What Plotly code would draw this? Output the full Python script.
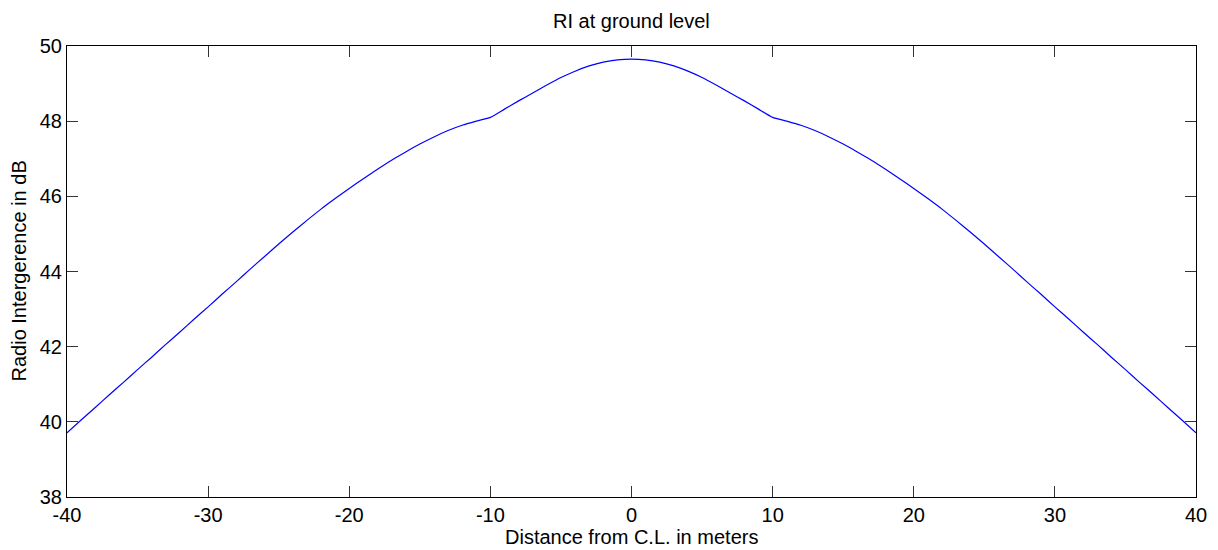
import plotly.graph_objects as go

distance_m = [-40, -39, -38, -37, -36, -35, -34, -33, -32, -31, -30, -29, -28, -27, -26, -25, -24, -23, -22, -21,
              -20, -19, -18, -17, -16, -15, -14, -13, -12, -11, -10, -9, -8, -7, -6, -5, -4, -3, -2, -1,
              0, 1, 2, 3, 4, 5, 6, 7, 8, 9, 10, 11, 12, 13, 14, 15, 16, 17, 18, 19,
              20, 21, 22, 23, 24, 25, 26, 27, 28, 29, 30, 31, 32, 33, 34, 35, 36, 37, 38, 39, 40]
ri_db = [39.71, 40.05, 40.38, 40.72, 41.05, 41.39, 41.72, 42.06, 42.39, 42.73, 43.06, 43.40, 43.73, 44.07, 44.40,
         44.73, 45.05, 45.36, 45.66, 45.94, 46.21, 46.47, 46.72, 46.96, 47.18, 47.39, 47.58, 47.75, 47.89, 48.00,
         48.10, 48.32, 48.54, 48.75, 48.96, 49.16, 49.33, 49.47, 49.57, 49.63,
         49.65,
         49.63, 49.57, 49.47, 49.33, 49.16, 48.96, 48.75, 48.54, 48.32, 48.10,
         48.00, 47.89, 47.75, 47.58, 47.39, 47.18, 46.96, 46.72, 46.47, 46.21, 45.94, 45.66, 45.36, 45.05,
         44.73, 44.40, 44.07, 43.73, 43.40, 43.06, 42.73, 42.39, 42.06, 41.72, 41.39, 41.05, 40.72, 40.38, 40.05, 39.71]

x_ticks = [-40, -30, -20, -10, 0, 10, 20, 30, 40]
y_ticks = [38, 40, 42, 44, 46, 48, 50]

title_text = "RI at ground level"
x_label = "Distance from C.L. in meters"
y_label = "Radio Intergerence in dB"

FONT = "Liberation Sans, Arial, sans-serif"
# page has an 8px body margin, so the figure is sized to fill the rest of the window
OFF = 8
W, H = 1218 - OFF, 550 - OFF
L, R, T, B = 67 - OFF, 22, 46 - OFF, 53
PW, PH = W - L - R, H - T - B

fig = go.Figure()
fig.add_trace(go.Scatter(x=distance_m, y=ri_db, mode="lines", line_shape="spline",
                         line=dict(color="#0000ff", width=1.2, smoothing=0.5), showlegend=False))

axis_common = dict(showgrid=False, zeroline=False, showline=True, linecolor="#000000", linewidth=1,
                   mirror="allticks", ticks="inside", ticklen=11, tickwidth=1, tickcolor="#333333",
                   automargin=False,
                   tickfont=dict(family=FONT, size=20, color="#000000"))

fig.update_xaxes(range=[-40, 40], tickvals=x_ticks, ticktext=[str(v) for v in x_ticks], **axis_common)
fig.update_yaxes(range=[38, 50], tickvals=y_ticks, ticktext=[str(v) for v in y_ticks], **axis_common)

label_font = dict(family=FONT, size=20, color="#000000")
fig.add_annotation(text=title_text, xref="paper", yref="paper", x=0.5, y=(T + PH - (21 - OFF)) / PH,
                   xanchor="center", yanchor="middle", showarrow=False, font=label_font)
fig.add_annotation(text=x_label, xref="paper", yref="paper", x=0.5, y=(T + PH - (537 - OFF)) / PH,
                   xanchor="center", yanchor="middle", showarrow=False, font=label_font)
fig.add_annotation(text=y_label, xref="paper", yref="paper", x=((18 - OFF) - L) / PW, y=0.5, textangle=-90,
                   xanchor="center", yanchor="middle", showarrow=False, font=label_font)

fig.update_layout(
    width=W, height=H,
    margin=dict(l=L, r=R, t=T, b=B, pad=0),
    paper_bgcolor="#ffffff", plot_bgcolor="#ffffff",
)

fig.write_html("out.html")
